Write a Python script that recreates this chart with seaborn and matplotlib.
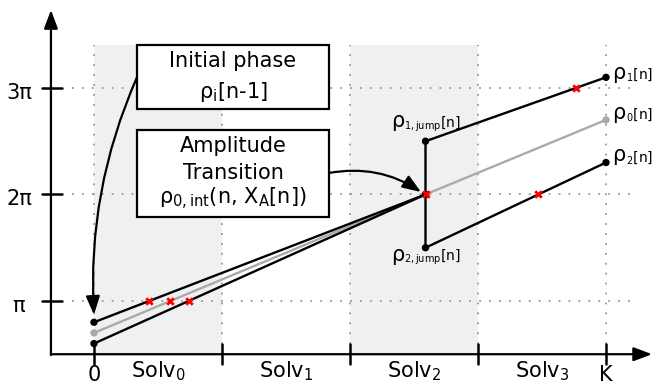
import numpy as np
import pandas as pd
import matplotlib
matplotlib.use("Agg")
import matplotlib.pyplot as plt
import seaborn as sns
from matplotlib.patches import Rectangle

# ---------------- data (x in solver-interval units, y in units of pi) -------
solver_labels = ["Solv$_0$", "Solv$_1$", "Solv$_2$", "Solv$_3$"]
x_tick_pos = [0, 1, 2, 3, 4]
x_end_labels = {0: "0", 4: "K"}
y_tick_pos = [1, 2, 3]
y_tick_labels = ["π", "2π", "3π"]
shaded_starts = [0, 2]

x_jump = 2.59
x_nodes_jump = [0, x_jump, x_jump, 4]
x_nodes_ref = [0, x_jump, 4]
rho1 = [0.8, 2.0, 2.5, 3.1]
rho0 = [0.7, 2.0, 2.7]
rho2 = [0.6, 2.0, 1.5, 2.3]

# (series, segment index, crossed level in units of pi)
crossings = [("rho1", 0, 1), ("rho0", 0, 1), ("rho2", 0, 1),
             ("rho1", 2, 3), ("rho2", 2, 2)]

# ---------------- styling --------------------------------------------------
sns.set_theme(style="white")
plt.rcParams["font.family"] = ["DejaVu Sans"]
plt.rcParams["text.color"] = "black"
plt.rcParams["mathtext.default"] = "regular"
plt.rcParams["mathtext.fontset"] = "dejavusans"

fig = plt.figure(figsize=(6.54, 3.85), dpi=100)
ax = fig.add_axes([0, 0, 1, 1])
ax.set_xlim(-0.734, 4.375)
ax.set_ylim(0.211, 3.826)
ax.axis("off")

y_axis_x = -0.336
x_axis_y = 0.5
top_grid = 3.40

# shaded solver intervals
for s in shaded_starts:
    ax.add_patch(Rectangle((s, x_axis_y), 1, top_grid - x_axis_y,
                           facecolor="#f0f0f0", edgecolor="none", zorder=0))

# dotted grid
dot = dict(color="#999999", lw=1.3, linestyle=(0, (1, 4.5)), zorder=1)
for yv in y_tick_pos:
    ax.plot([-0.17, 4.19], [yv, yv], **dot)
for xv in x_tick_pos:
    ax.plot([xv, xv], [x_axis_y, top_grid], **dot)

# axes with arrows
arr = dict(arrowstyle="-|>,head_length=0.8,head_width=0.3", color="black",
           lw=1.6, mutation_scale=14, shrinkA=0, shrinkB=0)
ax.annotate("", xy=(y_axis_x, 3.732), xytext=(y_axis_x, x_axis_y - 0.008),
            arrowprops=arr, zorder=3)
ax.annotate("", xy=(4.36, x_axis_y), xytext=(y_axis_x, x_axis_y),
            arrowprops=arr, zorder=3)

# ticks and tick labels
for yv, lab in zip(y_tick_pos, y_tick_labels):
    ax.plot([-0.406, -0.25], [yv, yv], color="black", lw=1.8, zorder=3)
    ax.text(-0.586, yv - 0.103, lab, ha="center", va="baseline", fontsize=15)
for xv in x_tick_pos:
    ax.plot([xv, xv], [0.408, 0.596], color="black", lw=1.8, zorder=3)
for xv, lab in x_end_labels.items():
    ax.text(xv, 0.245, lab, ha="center", va="baseline", fontsize=15)
for i, lab in enumerate(solver_labels):
    ax.text(i + 0.5, 0.286, lab, ha="center", va="baseline", fontsize=15)

# phase trajectories
df = pd.concat([
    pd.DataFrame({"x": x_nodes_jump, "y": rho1, "series": "rho1"}),
    pd.DataFrame({"x": x_nodes_ref, "y": rho0, "series": "rho0"}),
    pd.DataFrame({"x": x_nodes_jump, "y": rho2, "series": "rho2"}),
], ignore_index=True)
palette = {"rho1": "black", "rho0": "#aaaaaa", "rho2": "black"}
for name in ["rho0", "rho1", "rho2"]:
    sub = df[df.series == name]
    sns.lineplot(x=sub["x"].to_numpy(), y=sub["y"].to_numpy(), sort=False,
                 estimator=None, color=palette[name], lw=1.7, ax=ax,
                 zorder=4 if name != "rho0" else 3.5)
    sns.scatterplot(x=sub["x"].to_numpy(), y=sub["y"].to_numpy(),
                    color=palette[name], s=28, edgecolor="none", ax=ax,
                    zorder=5)

# red crosses at multiples of pi
series = {"rho1": (x_nodes_jump, rho1), "rho0": (x_nodes_ref, rho0),
          "rho2": (x_nodes_jump, rho2)}
cx, cy = [x_jump], [rho0[1]]
for name, seg, lvl in crossings:
    xs, ys = series[name]
    x0, x1, y0, y1 = xs[seg], xs[seg + 1], ys[seg], ys[seg + 1]
    cx.append(x0 + (lvl - y0) * (x1 - x0) / (y1 - y0))
    cy.append(lvl)
sns.scatterplot(x=cx, y=cy, marker="x", color="red", s=22, linewidth=2.0,
                ax=ax, zorder=6)


def rho_label(x, y, sub, rest, dx, dy, big=15, small=10):
    ax.annotate("ρ", (x, y), xytext=(dx, dy), textcoords="offset points",
                fontsize=big, ha="left", va="baseline", zorder=7)
    ax.annotate("$_{" + sub + "}$" + rest, (x, y),
                xytext=(dx + 0.64 * big, dy), textcoords="offset points",
                fontsize=small, ha="left", va="baseline", zorder=7)


rho_label(4, rho1[-1], "1", "[n]", 4.5, -1.0)
rho_label(4, rho0[-1], "0", "[n]", 4.5, 1.0)
rho_label(4, rho2[-1], "2", "[n]", 4.5, 1.0)
rho_label(x_jump, rho1[2], "1,jump", "[n]", -25, 10)
rho_label(x_jump, rho2[2], "2,jump", "[n]", -25, -9.5)

# boxes
box_x0, box_x1 = 0.336, 1.836
for (yb, yt) in [(2.803, 3.404), (1.789, 2.606)]:
    ax.add_patch(Rectangle((box_x0, yb), box_x1 - box_x0, yt - yb,
                           facecolor="white", edgecolor="black", lw=1.6,
                           zorder=8))
bx = (box_x0 + box_x1) / 2
tk = dict(ha="center", va="baseline", fontsize=15, zorder=9)
ax.text(bx, 3.197, "Initial phase", **tk)
ax.text(bx, 2.906, "ρ$_i$[n-1]", **tk)
ax.text(bx, 2.399, "Amplitude", **tk)
ax.text(bx, 2.146, "Transition", **tk)
ax.text(bx, 1.911, "ρ$_{0,int}$(n, X$_A$[n])", **tk)

# curved arrows
carr = dict(arrowstyle="-|>,head_length=0.8,head_width=0.3", color="black",
            lw=1.6, mutation_scale=14, shrinkA=0, shrinkB=0)
ax.annotate("", xy=(0.0, 0.87), xytext=(box_x0, 3.10),
            arrowprops=dict(connectionstyle="arc3,rad=0.12", **carr), zorder=9)
ax.annotate("", xy=(2.555, 2.023), xytext=(box_x1, 2.202),
            arrowprops=dict(connectionstyle="arc3,rad=-0.2", **carr), zorder=9)

fig.savefig("out.png", dpi=100)
